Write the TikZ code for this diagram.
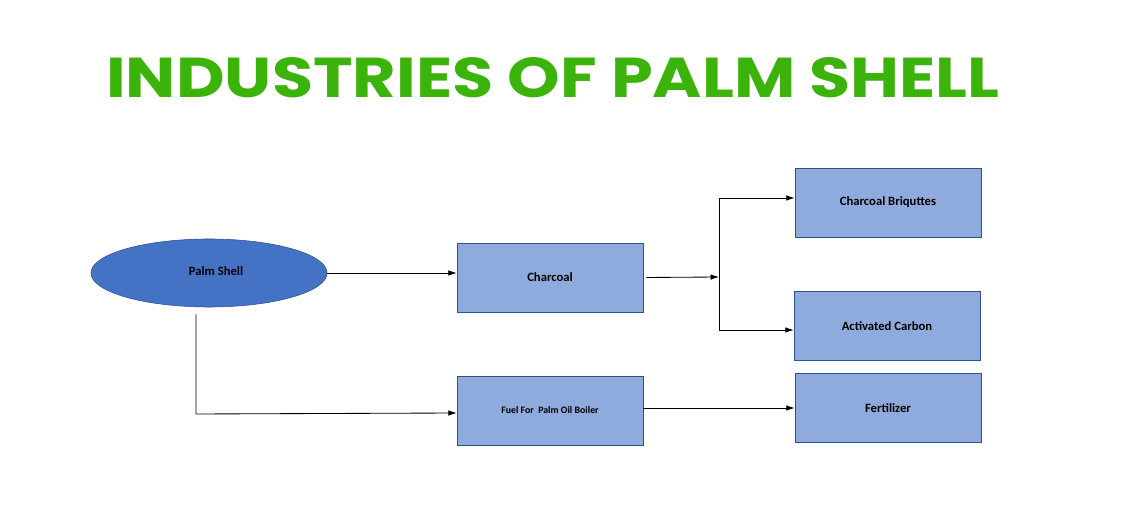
\documentclass[tikz,border=0pt]{standalone}
\usepackage{fontspec}
\setmainfont{Carlito}
\newfontfamily\titlefont{Poppins}
\usetikzlibrary{arrows.meta, positioning, shapes.geometric, calc}
\definecolor{titlegreen}{HTML}{3CB30A}
\definecolor{ellfill}{HTML}{4472C4}
\definecolor{boxfill}{HTML}{8FAADC}
\definecolor{boxline}{HTML}{2F528F}
\begin{document}
\begin{tikzpicture}[x=0.025cm, y=-0.025cm,
    box/.style={draw=boxline, fill=boxfill, minimum width=4.65cm, minimum height=1.725cm, font=\bfseries\small},
    link/.style={-{Latex[length=6pt,width=4pt]}, semithick}
]
\useasboundingbox (0,0) rectangle (1121,523);

% Title
\node (title) at (553,78) {\resizebox{22.325cm}{1cm}{\titlefont\bfseries\color{titlegreen}INDUSTRIES OF PALM SHELL}};

% Nodes
\node[draw=boxline, fill=ellfill, ellipse, minimum width=5.9cm, minimum height=1.7cm] (shell) at (209,273) {};
\node[font=\bfseries\small] (shelltxt) at (216,271) {Palm Shell};
\node[box] (charcoal) at (550,277.5) {Charcoal};
\node[box] (briq) at (888,202.5) {Charcoal Briquttes};
\node[box] (carbon) at (887,326) {Activated Carbon};
\node[box, font=\bfseries\scriptsize] (fuel) at (550,410.5) {Fuel For\ \ Palm Oil Boiler};
\node[box] (fert) at (888,408) {Fertilizer};

% Connectors
\coordinate (split) at (719,277);
\coordinate (bend) at (196,414);
\draw[link] (shell.east) -- (charcoal.west |- shell.east);
\draw[link] ([xshift=0.075cm]charcoal.east) -- (split);
\draw[link] (split) |- (briq.west |- 0,198);
\draw[link] (split) |- (carbon.west |- 0,330);
\draw[semithick] ([xshift=-0.325cm, yshift=-0.175cm]shell.south) -- (bend);
\draw[link] (bend) -- (fuel.west |- 0,413);
\draw[link] (fuel.east |- fert.west) -- (fert.west);
\end{tikzpicture}
\end{document}
